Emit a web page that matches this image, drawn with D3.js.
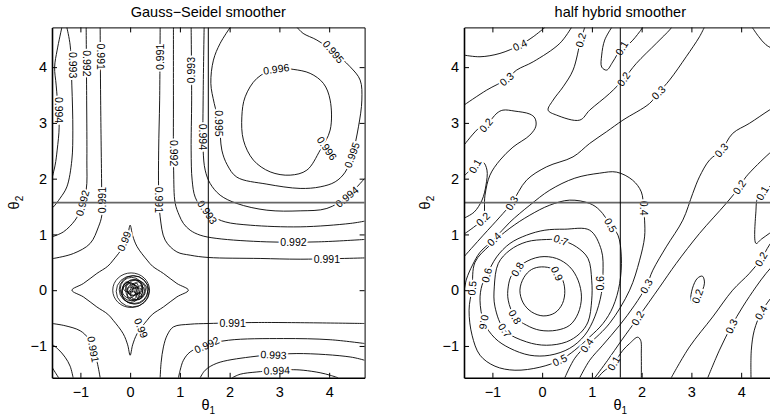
<!DOCTYPE html>
<html>
<head>
<meta charset="utf-8">
<script src="https://cdn.jsdelivr.net/npm/d3@7"></script>
<style>
html, body { margin: 0; padding: 0; background: #fff; }
svg { display: block; font-family: "Liberation Sans", Arial, Helvetica, sans-serif; }
</style>
</head>
<body>
<div id="chart"></div>
<script>
// shared axis settings (theta in radians)
const tickValues = [-1, 0, 1, 2, 3, 4];
const axisRange = [-Math.PI / 2, 3 * Math.PI / 2];
const markLine = Math.PI / 2;

// ---- Gauss-Seidel smoother: contour lines, points are [theta1, theta2] ----
const gs990 = [
  [[1.17,0],[0.94,0.12],[0.67,0.30],[0.45,0.43],[0.34,0.54],[0.14,0.78],[0.05,0.98],[0,1.166],[-0.05,0.98],[-0.14,0.78],[-0.34,0.54],[-0.45,0.43],[-0.67,0.30],[-0.94,0.12],[-1.17,0],[-0.94,-0.12],[-0.67,-0.30],[-0.45,-0.43],[-0.34,-0.54],[-0.14,-0.78],[-0.05,-0.98],[0,-1.166],[0.05,-0.98],[0.14,-0.78],[0.34,-0.54],[0.45,-0.43],[0.67,-0.30],[0.94,-0.12],[1.17,0]]
];
const gs991 = [
  [[-0.603,4.711],[-0.593,3.409],[-0.573,1.848],[-0.569,1.346],[-0.637,1.136],[-0.804,0.838],[-1.140,0.658],[-1.542,0.569],[-1.571,0.565]],
  [[0.603,4.711],[0.593,3.409],[0.573,2.512],[0.573,1.794],[0.603,1.315],[0.704,0.897],[0.939,0.687],[1.206,0.628],[1.568,0.587],[2.613,0.569],[3.417,0.556],[4.712,0.579]],
  [[0.603,-1.571],[0.623,-1.292],[0.669,-1.017],[0.744,-0.807],[0.870,-0.658],[1.206,-0.610],[1.574,-0.597],[2.579,-0.579],[4.712,-0.597]],
  [[-1.571,-0.597],[-1.307,-0.637],[-1.005,-0.727],[-0.844,-0.861],[-0.738,-1.076],[-0.663,-1.292],[-0.603,-1.571]]
];
const gs992 = [
  [[-0.884,4.711],[-0.874,3.409],[-0.870,2.332],[-0.884,1.794],[-1.005,1.435],[-1.106,1.256],[-1.341,1.046],[-1.571,0.956]],
  [[0.870,4.711],[0.870,3.409],[0.874,2.153],[0.905,1.561],[0.985,1.346],[1.071,1.197],[1.206,1.076],[1.407,0.987],[1.743,0.928],[2.748,0.867],[3.779,0.867],[4.712,0.910]],
  [[0.971,-1.571],[1.005,-1.435],[1.071,-1.256],[1.206,-1.107],[1.508,-0.987],[1.976,-0.897],[3.081,-0.867],[4.020,-0.888],[4.712,-0.956]],
  [[-1.571,-0.969],[-1.447,-1.058],[-1.307,-1.202],[-1.206,-1.363],[-1.146,-1.571]]
];
const gs993 = [
  [[-1.272,4.711],[-1.206,4.395],[-1.172,3.678],[-1.152,2.870],[-1.172,2.332],[-1.272,1.853],[-1.407,1.650],[-1.542,1.494],[-1.571,1.471]],
  [[1.226,4.711],[1.236,3.409],[1.226,2.512],[1.246,1.973],[1.307,1.668],[1.447,1.471],[1.648,1.328],[1.910,1.225],[2.412,1.166],[3.417,1.136],[4.422,1.197],[4.712,1.238]],
  [[1.407,-1.571],[1.508,-1.435],[1.743,-1.310],[2.412,-1.197],[3.351,-1.136],[4.422,-1.197],[4.712,-1.256]],
  [[-1.571,-1.381],[-1.508,-1.471],[-1.437,-1.571]]
];
const gs994 = [
  [[-1.373,4.711],[-1.467,4.306],[-1.518,4.001],[-1.487,3.678],[-1.447,3.229],[-1.427,2.924],[-1.467,2.512],[-1.508,2.243],[-1.571,2.009]],
  [[1.487,4.711],[1.467,3.409],[1.467,2.512],[1.508,2.153],[1.608,1.914],[1.809,1.704],[2.145,1.555],[2.748,1.435],[3.417,1.423],[3.954,1.466],[4.356,1.674],[4.623,1.914],[4.712,2.004]],
  [[2.050,-1.571],[2.211,-1.507],[2.547,-1.466],[3.216,-1.426],[3.477,-1.435],[3.819,-1.480],[4.020,-1.525],[4.181,-1.571]]
];
const gs995 = [
  [[2.010,4.711],[1.809,4.426],[1.674,4.126],[1.622,3.708],[1.69,3.35],[1.79,2.99],[1.843,2.512],[1.95,2.25],[2.145,2.027],[2.748,1.902],[3.417,1.825],[3.819,1.853],[4.121,1.943],[4.322,2.117],[4.462,2.422],[4.589,2.930],[4.657,3.409],[4.623,3.768],[4.422,4.006],[4.086,4.275],[3.753,4.485],[3.477,4.605],[3.357,4.711]]
];
const gs996 = [
  [[2.935,3.975],[2.547,3.798],[2.312,3.468],[2.245,3.109],[2.277,2.691],[2.478,2.332],[2.814,2.122],[3.216,2.063],[3.552,2.153],[3.819,2.512],[4.020,2.871],[4.020,3.409],[3.885,3.708],[3.618,3.888],[3.276,3.96],[2.935,3.975]]
];
// tangle of small rings at the origin: [theta1, theta2, r1, r2]
const gsCore = [
  [0.02,0.00,0.37,0.31],[0.05,-0.02,0.33,0.28],[0.07,0.01,0.29,0.25],[0.09,-0.03,0.26,0.22],
  [0.03,0.02,0.23,0.21],[0.11,0.00,0.20,0.18],[0.01,-0.05,0.18,0.17],[0.07,0.05,0.16,0.14],
  [-0.02,0.00,0.14,0.14],[0.13,-0.06,0.13,0.11],[0.05,0.00,0.11,0.10],[0.16,0.04,0.09,0.11],
  [0.03,-0.10,0.09,0.08],[-0.06,0.06,0.08,0.09],[0.21,-0.02,0.08,0.10],[0.00,0.00,0.05,0.06],
  [0.10,0.08,0.06,0.05],[0.18,-0.10,0.05,0.06]
];
// inline labels: [text, theta1, theta2, angle]
const gsLabels = [
  ["0.994",-1.44,3.23,90],["0.993",-1.16,4.036,90],["0.992",-0.874,4.067,90],["0.991",-0.598,4.186,90],
  ["0.991",0.598,4.186,-90],["0.992",0.870,2.458,90],["0.993",1.23,3.947,-90],["0.994",1.46,2.75,90],
  ["0.995",1.79,2.99,90],["0.996",2.935,3.965,-8],["0.996",3.954,2.542,55],["0.995",4.086,4.275,50],
  ["0.995",4.456,2.422,-70],["0.994",4.356,1.674,-40],["0.993",1.55,1.40,55],["0.992",3.283,0.867,0],
  ["0.991",3.954,0.56,0],["0.991",0.573,1.62,90],["0.992",-0.96,1.561,-75],["0.991",-0.569,1.615,-90],
  ["0.991",-0.74,-1.06,80],["0.991",2.060,-0.588,0],["0.992",1.541,-0.98,-25],["0.993",2.881,-1.16,3],
  ["0.994",2.948,-1.44,-2],["0.99",-0.12,0.88,-68],["0.99",0.22,-0.68,68]
];

// ---- half hybrid smoother ----
const hh1 = [
  [[-1.571,2.045],[-1.449,2.153],[-1.349,2.225],[-1.189,2.296],[-1.109,2.153],[-1.129,1.884],[-1.209,1.615],[-1.369,1.399],[-1.571,1.292]],
  [[4.70,1.973],[4.565,1.853],[4.425,1.740],[4.324,1.633],[4.298,1.435],[4.298,0.838],[4.405,0.915],[4.565,1.017],[4.70,1.112]],
  [[1.397,4.711],[1.257,4.485],[1.197,4.216],[1.197,4.001],[1.297,3.947],[1.417,4.090],[1.598,4.342],[1.758,4.426],[1.959,4.634],[2.019,4.711]],
  [[1.117,-1.571],[1.223,-1.466],[1.437,-1.310],[1.624,-1.076],[1.758,-0.956],[1.919,-0.843],[1.979,-0.897],[1.993,-1.166],[1.993,-1.571]]
];
const hh2 = [
  [[-1.571,2.601],[-1.249,2.924],[-1.129,2.960],[-0.908,3.175],[-0.788,3.229],[-0.547,3.211],[-0.247,3.158],[-0.146,3.086],[-0.126,2.942],[-0.247,2.781],[-0.587,2.565],[-0.848,2.332],[-1.049,2.063],[-1.149,1.704],[-1.189,1.274],[-1.349,1.148],[-1.571,1.005]],
  [[0.856,4.711],[0.776,4.485],[0.621,3.947],[0.421,3.647],[0.221,3.409],[0.120,3.229],[0.289,3.140],[0.756,3.050],[0.956,3.229],[1.357,3.529],[1.638,3.785],[1.893,4.067],[2.294,4.426],[2.560,4.665],[2.600,4.711]],
  [[4.70,2.547],[4.565,2.452],[4.098,2.033],[3.964,1.848],[3.697,1.555],[3.162,1.017],[2.694,0.479],[2.360,0.054],[1.919,-0.502],[1.598,-0.897],[1.317,-1.256],[1.057,-1.571]],
  [[2.594,-1.571],[2.961,-1.017],[3.428,-0.479],[3.829,0],[4.164,0.300],[4.399,0.556],[4.565,0.807],[4.70,0.969]],
  [[3.222,0.251],[3.262,0.126],[3.162,-0.108],[3.042,-0.233],[2.991,-0.179],[3.022,0.036],[3.122,0.215],[3.222,0.251]]
];
const hh3 = [
  [[-1.571,3.319],[-1.115,3.588],[-0.714,3.785],[-0.513,3.947],[-0.180,4.096],[0.355,4.426],[0.589,4.711]],
  [[3.258,4.711],[3.162,4.544],[2.895,4.186],[2.560,3.767],[2.339,3.543],[2.159,3.349],[1.624,3.050],[1.291,2.840],[0.956,2.632],[0.621,2.391],[0.088,2.212],[-0.313,1.973],[-0.613,1.561],[-0.848,1.315],[-1.183,0.987],[-1.571,0.60]],
  [[4.70,3.30],[4.565,3.229],[4.164,2.991],[3.829,2.811],[3.603,2.512],[3.362,2.332],[3.162,2.033],[3.027,1.735],[2.827,1.256],[2.494,0.777],[2.225,0.359],[2.093,0.072],[1.858,-0.269],[1.558,-0.628],[1.217,-0.987],[0.956,-1.256],[0.755,-1.571]],
  [[3.328,-1.571],[3.563,-1.076],[3.803,-0.646],[4.030,-0.300],[4.298,0.059],[4.499,0.300],[4.70,0.502]]
];
const hh4 = [
  [[-1.571,4.216],[-1.249,4.186],[-0.848,4.246],[-0.447,4.395],[-0.180,4.545],[0.054,4.711]],
  [[-1.571,-0.03],[-1.52,0.2],[-1.40,0.45],[-1.249,0.68],[-0.968,0.915],[-0.648,1.22],[-0.247,1.525],[0.154,1.794],[0.656,2.009],[1.157,2.099],[1.498,2.117],[1.818,1.973],[1.993,1.763],[2.039,1.471],[2.059,1.256],[2.059,0.956],[1.959,0.538],[1.758,0],[1.357,-0.592],[0.976,-0.933],[0.896,-0.987],[0.656,-1.220],[0.455,-1.571]],
  [[4.198,-1.571],[4.204,-1.076],[4.264,-0.718],[4.405,-0.395],[4.565,-0.179],[4.70,-0.036]],
  [[4.224,4.711],[4.35,4.55],[4.5,4.40],[4.70,4.30]]
];
const hh5 = [
  [[-1.409,0.036],[-1.349,0.502],[-1.049,0.807],[-0.648,1.112],[-0.247,1.346],[0.154,1.525],[0.555,1.615],[0.956,1.555],[1.157,1.435],[1.377,1.166],[1.524,0.987],[1.592,0.597],[1.558,0.120],[1.423,-0.300],[1.223,-0.597],[0.956,-0.838],[0.656,-1.076],[0.355,-1.256],[-0.046,-1.381],[-0.547,-1.435],[-0.948,-1.363],[-1.249,-1.166],[-1.409,-0.807],[-1.469,-0.359],[-1.409,0.036]]
];
const hh6 = [
  [[-1.115,0.269],[-0.914,0.597],[-0.648,0.838],[-0.313,0.987],[0.054,1.076],[0.455,1.094],[0.956,1.076],[1.191,0.718],[1.223,0.3],[1.191,-0.059],[1.057,-0.479],[0.856,-0.807],[0.555,-1.041],[0.154,-1.166],[-0.247,-1.166],[-0.648,-1.041],[-0.948,-0.861],[-1.17,-0.574],[-1.249,-0.179],[-1.209,0.09],[-1.115,0.269]]
];
const hh7 = [
  [[-0.882,0.479],[-0.648,0.718],[-0.313,0.867],[0.088,0.909],[0.375,0.897],[0.690,0.777],[0.922,0.569],[0.996,0.179],[0.996,-0.179],[0.922,-0.569],[0.756,-0.777],[0.489,-0.927],[0.088,-0.987],[-0.313,-0.927],[-0.75,-0.72],[-0.948,-0.299],[-0.962,0.059],[-0.882,0.479]]
];
const hh8 = [
  [[-0.381,0.479],[-0.046,0.597],[0.289,0.569],[0.555,0.418],[0.722,0.179],[0.790,-0.120],[0.722,-0.418],[0.555,-0.628],[0.289,-0.718],[-0.046,-0.718],[-0.313,-0.628],[-0.547,-0.479],[-0.682,-0.179],[-0.682,0.059],[-0.613,0.269],[-0.381,0.479]]
];
const hh9 = [
  [[-0.447,0],[-0.367,0.228],[-0.213,0.371],[-0.012,0.418],[0.221,0.377],[0.389,0.228],[0.455,0],[0.409,-0.239],[0.255,-0.407],[0.020,-0.461],[-0.213,-0.389],[-0.381,-0.228],[-0.447,0]]
];
const hhLabels = [
  ["0.9",0.3,0.3,65],["0.8",-0.497,0.374,-60],["0.8",-0.547,-0.479,60],["0.7",0.375,0.897,20],
  ["0.7",-0.75,-0.72,55],["0.6",-1.115,0.269,-75],["0.6",-1.17,-0.574,100],["0.5",-1.409,0.036,-85],
  ["0.5",0.355,-1.256,-25],["0.5",1.377,1.166,60],["0.6",1.177,0.126,-90],["0.4",-0.968,0.915,-45],
  ["0.4",0.896,-0.987,-55],["0.4",2.039,1.471,90],["0.4",-0.447,4.395,-25],["0.4",4.40,-0.40,-60],
  ["0.3",-0.714,3.785,-40],["0.3",-0.613,1.561,-60],["0.3",2.339,3.543,-45],["0.3",3.603,2.512,-50],
  ["0.3",2.093,0.072,-60],["0.3",3.803,-0.646,-65],["0.2",-1.129,2.960,-50],["0.2",-1.189,1.274,-45],
  ["0.2",0.776,4.485,-75],["0.2",1.638,3.785,-55],["0.2",3.964,1.848,-55],["0.2",1.919,-0.502,-60],
  ["0.2",4.399,0.556,-60],["0.2",3.12,-0.108,-70],["0.1",-1.349,2.225,-60],["0.1",1.598,4.342,-60],
  ["0.1",4.425,1.740,-60],["0.1",1.437,-1.310,-60]
];

const W = 770, H = 416;
const plotW = 312.6, plotH = 350.4, plotTop = 27.4;

const panels = [
  { left: 52, title: "Gauss\u2212Seidel smoother", lines: [gs990, gs991, gs992, gs993, gs994, gs995, gs996], core: gsCore, labels: gsLabels, yLabelX: 19 },
  { left: 464, title: "half hybrid smoother", lines: [hh1, hh2, hh3, hh4, hh5, hh6, hh7, hh8, hh9], core: [], labels: hhLabels, yLabelX: 430 }
];

const svg = d3.select("#chart").append("svg")
  .attr("width", W)
  .attr("height", H);

svg.append("rect").attr("width", W).attr("height", H).attr("fill", "#fff");

const tickFmt = d3.format("d");

panels.forEach((p, i) => {
  const x = d3.scaleLinear().domain(axisRange).range([p.left, p.left + plotW]);
  const y = d3.scaleLinear().domain(axisRange).range([plotTop + plotH, plotTop]);

  svg.append("clipPath").attr("id", "clip" + i)
    .append("rect")
    .attr("x", p.left).attr("y", plotTop)
    .attr("width", plotW).attr("height", plotH);

  const g = svg.append("g");
  const plot = g.append("g").attr("clip-path", `url(#clip${i})`);

  const openLine = d3.line().x(d => x(d[0])).y(d => y(d[1])).curve(d3.curveCatmullRom.alpha(0.5));
  const closedLine = d3.line().x(d => x(d[0])).y(d => y(d[1])).curve(d3.curveCatmullRomClosed.alpha(0.5));

  // contour lines
  p.lines.forEach(level => {
    level.forEach(pts => {
      const a = pts[0], b = pts[pts.length - 1];
      const closed = a[0] === b[0] && a[1] === b[1];
      plot.append("path")
        .attr("d", closed ? closedLine(pts.slice(0, -1)) : openLine(pts))
        .attr("fill", "none")
        .attr("stroke", "#000")
        .attr("stroke-width", 0.9);
    });
  });

  // singular rings
  plot.selectAll(".ring")
    .data(p.core)
    .join("ellipse")
    .attr("class", "ring")
    .attr("cx", d => x(d[0]))
    .attr("cy", d => y(d[1]))
    .attr("rx", d => x(d[0] + d[2]) - x(d[0]))
    .attr("ry", d => y(d[1]) - y(d[1] + d[3]))
    .attr("fill", "none")
    .attr("stroke", "#000")
    .attr("stroke-width", 0.8);

  // inline contour labels
  plot.selectAll(".clabel")
    .data(p.labels)
    .join("text")
    .attr("class", "clabel")
    .attr("transform", d => `translate(${x(d[1])},${y(d[2])}) rotate(${d[3]})`)
    .attr("text-anchor", "middle")
    .attr("dy", "0.36em")
    .attr("font-size", 10.5)
    .attr("fill", "#000")
    .attr("stroke", "#fff")
    .attr("stroke-width", 4)
    .attr("paint-order", "stroke")
    .text(d => d[0]);

  // theta = pi/2 guide lines
  plot.append("line")
    .attr("x1", x(axisRange[0])).attr("x2", x(axisRange[1]))
    .attr("y1", y(markLine)).attr("y2", y(markLine))
    .attr("stroke", "#666").attr("stroke-width", 1.6);
  plot.append("line")
    .attr("x1", x(markLine)).attr("x2", x(markLine))
    .attr("y1", y(axisRange[0])).attr("y2", y(axisRange[1]))
    .attr("stroke", "#000").attr("stroke-width", 1);

  // axes, ticks pointing inwards on all four sides
  const styleAxis = sel => {
    sel.attr("font-size", 14.5).attr("font-family", null);
    sel.selectAll("text").attr("fill", "#000");
    sel.selectAll("line").attr("stroke", "#000");
  };
  g.append("g")
    .attr("transform", `translate(0,${plotTop + plotH})`)
    .call(d3.axisBottom(x).tickValues(tickValues).tickFormat(tickFmt).tickSizeInner(-5).tickSizeOuter(0).tickPadding(9))
    .call(styleAxis)
    .call(s => s.select(".domain").attr("stroke-width", 1.6));
  g.append("g")
    .attr("transform", `translate(${p.left},0)`)
    .call(d3.axisLeft(y).tickValues(tickValues).tickFormat(tickFmt).tickSizeInner(-5).tickSizeOuter(0).tickPadding(5))
    .call(styleAxis)
    .call(s => s.select(".domain").attr("stroke-width", 1.6));
  g.append("g")
    .attr("transform", `translate(0,${plotTop})`)
    .call(d3.axisTop(x).tickValues(tickValues).tickSizeInner(-5).tickSizeOuter(0).tickFormat(""))
    .call(styleAxis);
  g.append("g")
    .attr("transform", `translate(${p.left + plotW},0)`)
    .call(d3.axisRight(y).tickValues(tickValues).tickSizeInner(-5).tickSizeOuter(0).tickFormat(""))
    .call(styleAxis);

  // title
  g.append("text")
    .attr("x", p.left + plotW / 2)
    .attr("y", 16.5)
    .attr("text-anchor", "middle")
    .attr("font-size", 14.5)
    .text(p.title);

  // axis names
  const xl = g.append("text")
    .attr("x", p.left + plotW / 2)
    .attr("y", 410)
    .attr("text-anchor", "middle")
    .attr("font-size", 14.5);
  xl.append("tspan").text("\u03b8");
  xl.append("tspan").attr("font-size", 10).attr("dy", 4).text("1");

  const yl = g.append("text")
    .attr("transform", `translate(${p.yLabelX},${plotTop + plotH / 2}) rotate(-90)`)
    .attr("text-anchor", "middle")
    .attr("font-size", 14.5);
  yl.append("tspan").text("\u03b8");
  yl.append("tspan").attr("font-size", 10).attr("dy", 4).text("2");
});
</script>
</body>
</html>
